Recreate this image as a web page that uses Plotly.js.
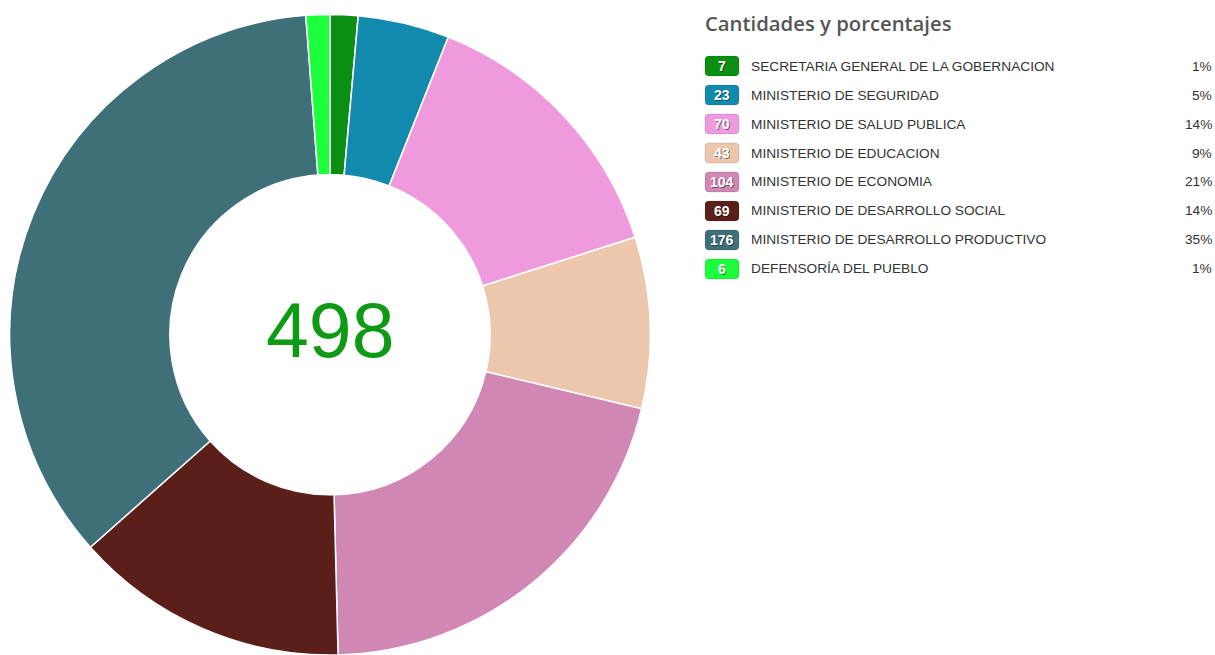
<!DOCTYPE html>
<html>
<head>
<meta charset="utf-8">
<script src="https://cdn.plot.ly/plotly-3.0.1.min.js"></script>
<style>html,body{margin:0;padding:0;background:#fff;}#chart{width:1215px;height:655px;}</style>
</head>
<body>
<div id="chart"></div>
<script>
var categories = [
  "SECRETARIA GENERAL DE LA GOBERNACION",
  "MINISTERIO DE SEGURIDAD",
  "MINISTERIO DE SALUD PUBLICA",
  "MINISTERIO DE EDUCACION",
  "MINISTERIO DE ECONOMIA",
  "MINISTERIO DE DESARROLLO SOCIAL",
  "MINISTERIO DE DESARROLLO PRODUCTIVO",
  "DEFENSORÍA DEL PUEBLO"
];
var values = [7, 23, 70, 43, 104, 69, 176, 6];
var colors = ["#0b8f12", "#118aae", "#f09ade", "#edc7ad", "#d087b4", "#5a1f19", "#3f6f78", "#1cff3c"];
var legendTitle = "Cantidades y porcentajes";

var W = 1215, H = 655;
function px(x){ return x / W; }
function py(y){ return 1 - y / H; }

var total = values.reduce(function(a,b){return a+b;}, 0);

var trace = {
  type: "pie",
  values: values,
  labels: categories,
  marker: {colors: colors, line: {color: "#ffffff", width: 1.5}},
  hole: 0.5,
  sort: false,
  direction: "clockwise",
  rotation: 0,
  textinfo: "none",
  hoverinfo: "label+value+percent",
  domain: {x: [px(8), px(652)], y: [0, 0.978]},
  showlegend: false
};

var annotations = [];
var shapes = [];

annotations.push({
  xref: "paper", yref: "paper", x: px(330), y: py(330),
  xanchor: "center", yanchor: "middle", showarrow: false,
  text: String(total),
  font: {family: "Liberation Sans, Arial, sans-serif", size: 77, color: "#0e9a14"}
});

annotations.push({
  xref: "paper", yref: "paper", x: px(703), y: py(23),
  xanchor: "left", yanchor: "middle", showarrow: false,
  text: legendTitle,
  font: {family: "Open Sans, sans-serif", size: 20.3, color: "#555555", weight: 600}
});

function roundRect(x0, y0, x1, y1, r) {
  var p = [];
  p.push("M " + px(x0 + r) + " " + py(y0));
  p.push("L " + px(x1 - r) + " " + py(y0));
  p.push("Q " + px(x1) + " " + py(y0) + " " + px(x1) + " " + py(y0 + r));
  p.push("L " + px(x1) + " " + py(y1 - r));
  p.push("Q " + px(x1) + " " + py(y1) + " " + px(x1 - r) + " " + py(y1));
  p.push("L " + px(x0 + r) + " " + py(y1));
  p.push("Q " + px(x0) + " " + py(y1) + " " + px(x0) + " " + py(y1 - r));
  p.push("L " + px(x0) + " " + py(y0 + r));
  p.push("Q " + px(x0) + " " + py(y0) + " " + px(x0 + r) + " " + py(y0));
  p.push("Z");
  return p.join(" ");
}

for (var i = 0; i < categories.length; i++) {
  var cy = 66 + i * 29;
  shapes.push({
    type: "path", xref: "paper", yref: "paper",
    path: roundRect(705, cy - 10, 739, cy + 10, 4),
    fillcolor: colors[i],
    line: {color: "rgba(0,0,0,0.12)", width: 1}
  });
  annotations.push({
    xref: "paper", yref: "paper", x: px(723), y: py(cy + 1),
    xanchor: "center", yanchor: "middle", showarrow: false,
    text: "<b>" + values[i] + "</b>",
    font: {family: "Liberation Sans, Arial, sans-serif", size: 14, color: "rgba(0,0,0,0.45)"}
  });
  annotations.push({
    xref: "paper", yref: "paper", x: px(722), y: py(cy),
    xanchor: "center", yanchor: "middle", showarrow: false,
    text: "<b>" + values[i] + "</b>",
    font: {family: "Liberation Sans, Arial, sans-serif", size: 14, color: "#ffffff"}
  });
  annotations.push({
    xref: "paper", yref: "paper", x: px(749), y: py(cy),
    xanchor: "left", yanchor: "middle", showarrow: false,
    text: categories[i],
    font: {family: "Liberation Sans, Arial, sans-serif", size: 13.7, color: "#333333"}
  });
  annotations.push({
    xref: "paper", yref: "paper", x: px(1214), y: py(cy),
    xanchor: "right", yanchor: "middle", showarrow: false,
    text: Math.round(values[i] / total * 100) + "%",
    font: {family: "Liberation Sans, Arial, sans-serif", size: 13.7, color: "#333333"}
  });
}

var layout = {
  width: W, height: H,
  margin: {l: 0, r: 0, t: 0, b: 0},
  paper_bgcolor: "#ffffff",
  plot_bgcolor: "#ffffff",
  showlegend: false,
  annotations: annotations,
  shapes: shapes
};

Plotly.newPlot("chart", [trace], layout, {displayModeBar: false, staticPlot: true});
</script>
</body>
</html>
